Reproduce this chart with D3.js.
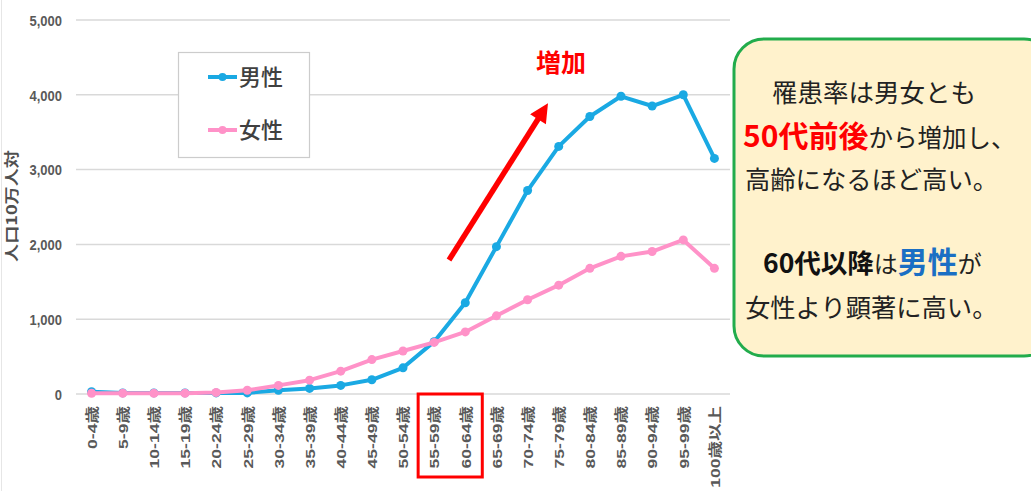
<!DOCTYPE html>
<html><head><meta charset="utf-8">
<script src="https://cdn.jsdelivr.net/npm/d3@7"></script>
<style>body{margin:0;background:#fff;} svg{display:block;}</style>
</head><body>
<svg id="chart" width="1031" height="491"></svg>
<script>
const categories = ["0-4歳","5-9歳","10-14歳","15-19歳","20-24歳","25-29歳","30-34歳","35-39歳","40-44歳","45-49歳","50-54歳","55-59歳","60-64歳","65-69歳","70-74歳","75-79歳","80-84歳","85-89歳","90-94歳","95-99歳","100歳以上"];
const maleValues   = [30, 15, 15, 15, 15, 15, 50, 75, 115, 190, 350, 700, 1220, 1970, 2720, 3310, 3710, 3980, 3850, 4000, 3150];
const femaleValues = [10, 10, 10, 10, 20, 50, 115, 185, 305, 460, 575, 690, 830, 1045, 1260, 1455, 1680, 1840, 1905, 2060, 1680];
const yTicks = [0, 1000, 2000, 3000, 4000, 5000];
const seriesNames = ["男性", "女性"];
const highlightCats = ["55-59歳", "60-64歳"];

const MALE = "#1aa9e3", FEMALE = "#ff92c8";
const svg = d3.select("#chart");
const x = d3.scalePoint().domain(categories).range([76, 730]).padding(0.5);
const y = d3.scaleLinear().domain([0, 5000]).range([394, 20]);
const latin = "'Liberation Sans', Arial, 'Noto Sans CJK JP', sans-serif";
const cjk = "'Noto Sans CJK JP', sans-serif";

// faint left border
svg.append("line").attr("x1",1.5).attr("x2",1.5).attr("y1",0).attr("y2",491).attr("stroke","#e6e6e6").attr("stroke-width",1);

// gridlines
svg.append("g").selectAll("line").data(yTicks).join("line")
  .attr("x1", 76).attr("x2", 730)
  .attr("y1", d => y(d)).attr("y2", d => y(d))
  .attr("stroke", "#d9d9d9").attr("stroke-width", 1.5);

// y axis tick labels
const yAxis = d3.axisLeft(y).tickValues(yTicks).tickFormat(d3.format(",")).tickSize(0).tickPadding(0);
const yg = svg.append("g").attr("transform", "translate(62,0)").call(yAxis);
yg.select(".domain").remove();
yg.selectAll("text").attr("font-family", latin).attr("font-weight", "bold")
  .attr("font-size", 13).attr("fill", "#595959").attr("x", 0).attr("dy", "0.35em")
  .attr("transform", "scale(1,1.15)");

// y axis title
svg.append("text").attr("transform", "translate(17,206) rotate(-90) scale(1.25,1)")
  .attr("text-anchor", "middle").attr("font-family", cjk).attr("font-size", 14.5)
  .attr("fill", "#505050").attr("font-weight", "bold").text("人口10万人対");

// x axis labels
const xAxis = d3.axisBottom(x).tickSize(0).tickPadding(0);
const xg = svg.append("g").attr("transform", "translate(0,406)").call(xAxis);
xg.select(".domain").remove();
xg.selectAll("text")
  .attr("font-family", latin).attr("font-weight", "bold").attr("font-size", 13.5)
  .attr("fill", "#595959").attr("text-anchor", "end").attr("dy", "0.35em").attr("y", 0)
  .attr("transform", "rotate(-90) scale(1.3,1)");

// red highlight box around two categories
const hx0 = x(highlightCats[0]) - 16, hx1 = x(highlightCats[1]) + 17;
svg.append("rect").attr("x", hx0).attr("y", 394).attr("width", hx1 - hx0).attr("height", 83)
  .attr("fill", "none").attr("stroke", "#ff0000").attr("stroke-width", 3);

// lines
const line = d3.line().x((d, i) => x(categories[i])).y(d => y(d));
function drawSeries(vals, color) {
  svg.append("path").datum(vals).attr("d", line).attr("fill", "none")
    .attr("stroke", color).attr("stroke-width", 4).attr("stroke-linejoin", "round");
  svg.append("g").selectAll("circle").data(vals).join("circle")
    .attr("cx", (d, i) => x(categories[i])).attr("cy", d => y(d)).attr("r", 4.5).attr("fill", color);
}
drawSeries(maleValues, MALE);
drawSeries(femaleValues, FEMALE);

// legend
svg.append("rect").attr("x", 178.5).attr("y", 52.5).attr("width", 131).attr("height", 105)
  .attr("fill", "#fff").attr("stroke", "#cccccc").attr("stroke-width", 1.2);
[[MALE, 77], [FEMALE, 130]].forEach(([c, ly], i) => {
  svg.append("line").attr("x1", 208).attr("x2", 237).attr("y1", ly).attr("y2", ly).attr("stroke", c).attr("stroke-width", 4);
  svg.append("circle").attr("cx", 222.5).attr("cy", ly).attr("r", 4).attr("fill", c);
  svg.append("text").attr("x", 239).attr("y", ly + 8).attr("font-family", cjk).attr("font-size", 22)
    .attr("fill", "#404040").attr("font-weight", "500").text(seriesNames[i]);
});

// arrow annotation
svg.append("defs").append("marker").attr("id", "ah").attr("viewBox", "0 0 10 10")
  .attr("refX", 2).attr("refY", 5).attr("markerWidth", 3.6).attr("markerHeight", 3.4)
  .attr("orient", "auto").attr("markerUnits", "strokeWidth")
  .append("path").attr("d", "M0,0 L10,5 L0,10 z").attr("fill", "#ff0000");
svg.append("line").attr("x1", 449).attr("y1", 260).attr("x2", 540).attr("y2", 116)
  .attr("stroke", "#ff0000").attr("stroke-width", 5.5).attr("marker-end", "url(#ah)");
svg.append("text").attr("x", 561).attr("y", 72).attr("text-anchor", "middle")
  .attr("font-family", cjk).attr("font-weight", "bold").attr("font-size", 25)
  .attr("fill", "#ff0000").text("増加");

// note box
svg.append("rect").attr("x", 734).attr("y", 39).attr("width", 320).attr("height", 317)
  .attr("rx", 30).attr("ry", 30).attr("fill", "#fff2cc").attr("stroke", "#22ac4c").attr("stroke-width", 3);
const note = [
  {x: 772, y: 102, parts: [["罹患率は男女とも", 25.5, "normal", "#222"]]},
  {x: 743, y: 147, parts: [["50代前後", 30, "bold", "#ff0000"], ["から増加し、", 24.5, "normal", "#222"]]},
  {x: 745, y: 189, parts: [["高齢になるほど高い。", 25.3, "normal", "#222"]]},
  {x: 763, y: 273, parts: [["60代以降", 26.5, "bold", "#111"], ["は", 24, "normal", "#222"], ["男性", 30, "bold", "#1a6fc4"], ["が", 24, "normal", "#222"]]},
  {x: 745, y: 317, parts: [["女性より顕著に高い。", 25.3, "normal", "#222"]]}
];
note.forEach(l => {
  const t = svg.append("text").attr("x", l.x).attr("y", l.y).attr("font-family", cjk);
  l.parts.forEach(p => t.append("tspan").attr("font-size", p[1]).attr("font-weight", p[2]).attr("fill", p[3]).text(p[0]));
});
</script>
</body></html>
